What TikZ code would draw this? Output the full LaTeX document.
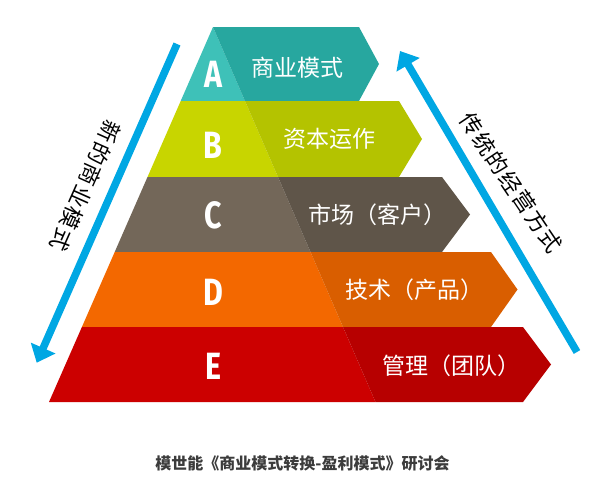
\documentclass[tikz,border=0pt]{standalone}
\usepackage{fontspec}
\setmainfont{Fira Sans}
\newfontfamily\cjk{Noto Sans CJK SC}
\newfontfamily\cjkwide{Noto Sans CJK SC}[LetterSpace=7]
\newfontfamily\letterfont{Fira Sans}[FakeStretch=0.8]
\usepackage{tikz}
\usetikzlibrary{arrows.meta}
\definecolor{cALt}{HTML}{3EC1B8}
\definecolor{cADk}{HTML}{27A79F}
\definecolor{cBLt}{HTML}{C8D500}
\definecolor{cBDk}{HTML}{B4C300}
\definecolor{cCLt}{HTML}{736759}
\definecolor{cCDk}{HTML}{5F5549}
\definecolor{cDLt}{HTML}{F36800}
\definecolor{cDDk}{HTML}{D95E00}
\definecolor{cELt}{HTML}{CC0000}
\definecolor{cEDk}{HTML}{B70000}
\definecolor{cArrow}{HTML}{00A7E3}
\definecolor{cText}{HTML}{3C3C3C}
\tikzset{
  letter/.style={font=\letterfont\bfseries\fontsize{38}{38}\selectfont, text=white, inner sep=0pt},
  lbl/.style={font=\cjk\fontsize{23}{23}\selectfont, text=white, inner sep=0pt},
  sidelbl/.style={font=\cjkwide\fontsize{22}{22}\selectfont, text=black, inner sep=0pt},
  captionlbl/.style={font=\cjk\bfseries\fontsize{16}{16}\selectfont, text=cText, inner sep=0pt},
  arr/.style={-{Triangle[width=26pt,length=16pt]}, line width=7.5pt, cArrow}
}
\begin{document}
\begin{tikzpicture}[x=1pt, y=-1pt]
\fill[white] (0,0) rectangle (610,482);
% ----- Band A -----
\fill[cALt] (213,27) -- (213,27) -- (245,101) -- (180.7,101) -- cycle;
\fill[cADk] (213,27) -- (359,27) -- (379,64) -- (359,101) -- (245,101) -- cycle;
\node[letter] (la) at (213,74) {A};
\node[lbl] (ta) at (297.5,68) {商业模式};
% ----- Band B -----
\fill[cBLt] (180.7,101) -- (245,101) -- (278,177) -- (147.5,177) -- cycle;
\fill[cBDk] (245,101) -- (399,101) -- (422,139) -- (399,177) -- (278,177) -- cycle;
\node[letter] (lb) at (213,145) {B};
\node[lbl] (tb) at (329,139) {资本运作};
% ----- Band C -----
\fill[cCLt] (147.5,177) -- (278,177) -- (310.5,252) -- (114.7,252) -- cycle;
\fill[cCDk] (278,177) -- (442,177) -- (470,214.5) -- (442,252) -- (310.5,252) -- cycle;
\node[letter] (lc) at (213,215) {C};
\node[lbl] (tc) at (377,215) {市场（客户）};
% ----- Band D -----
\fill[cDLt] (114.7,252) -- (310.5,252) -- (343,327) -- (81.9,327) -- cycle;
\fill[cDDk] (310.5,252) -- (491,252) -- (517.5,289.5) -- (491,327) -- (343,327) -- cycle;
\node[letter] (ld) at (213,292) {D};
\node[lbl] (td) at (414,290) {技术（产品）};
% ----- Band E -----
\fill[cELt] (81.9,327) -- (343,327) -- (375.5,402) -- (49,402) -- cycle;
\fill[cEDk] (343,327) -- (523,327) -- (551,364.5) -- (523,402) -- (375.5,402) -- cycle;
\node[letter] (le) at (213,366) {E};
\node[lbl] (te) at (451,366) {管理（团队）};
% ----- side arrows -----
\coordinate (newTop) at (177,44);
\coordinate (newTip) at (36.7,362.7);
\coordinate (oldEnd) at (577,352);
\coordinate (oldTip) at (400,51);
\draw[arr] (newTop) -- (newTip);
\draw[arr] (oldEnd) -- (oldTip);
\node[sidelbl, rotate=-114] (newlbl) at (85.8,185.8) {新的商业模式};
\node[sidelbl, rotate=-56] (oldlbl) at (511,182.5) {传统的经营方式};
% ----- caption -----
\node[captionlbl] (cap) at (302.5,463) {模世能《商业模式转换-盈利模式》研讨会};
\end{tikzpicture}
\end{document}
